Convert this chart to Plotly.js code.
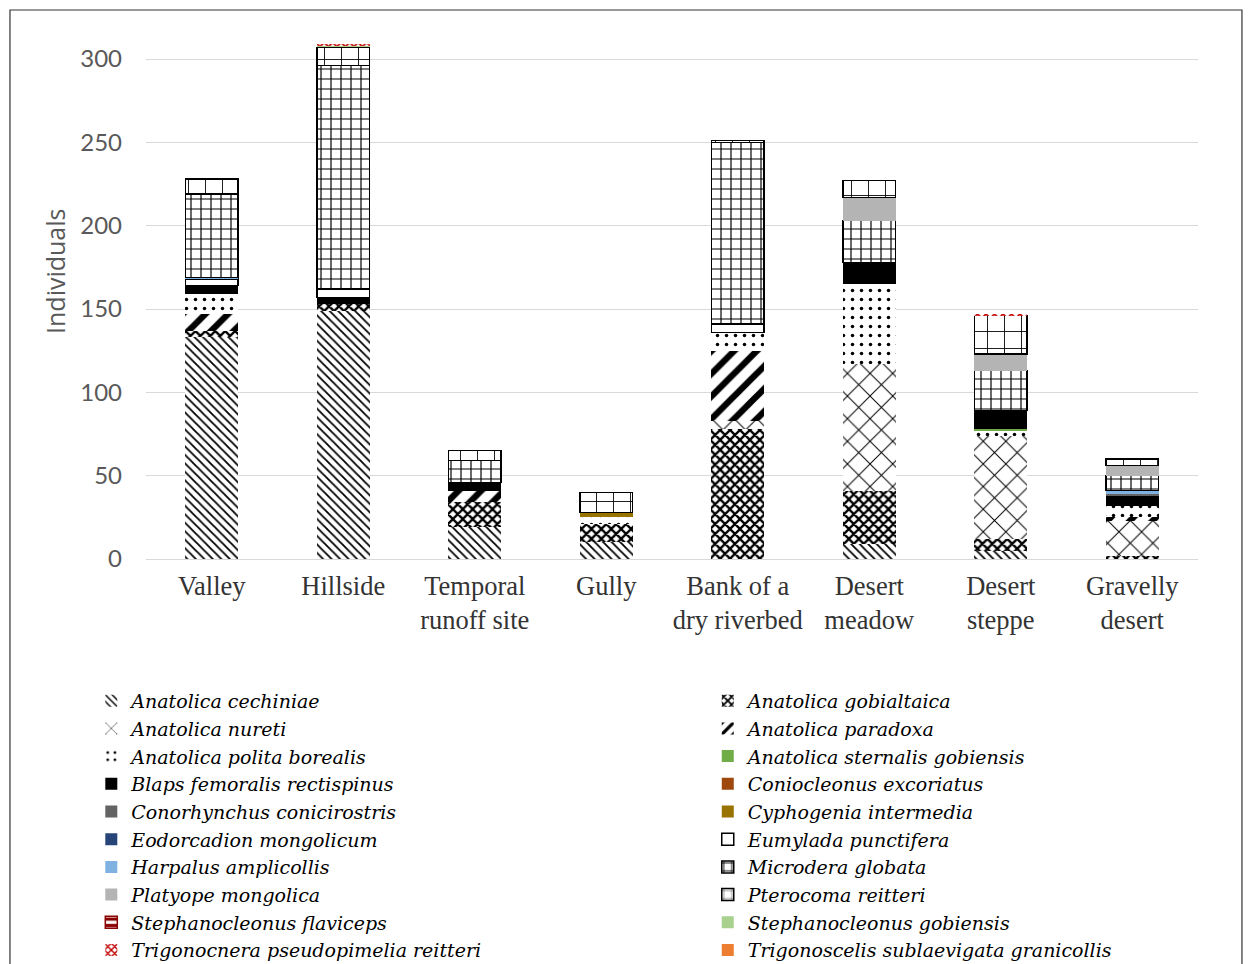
<!DOCTYPE html>
<html>
<head>
<meta charset="utf-8">
<script src="https://cdn.plot.ly/plotly-3.0.1.min.js"></script>
<style>
  html, body { margin: 0; padding: 0; background: #ffffff; }
  #chart { width: 1252px; height: 964px; }
</style>
</head>
<body>
<div id="chart"></div>
<script>
// Habitat types along the x axis
const habitats = ["Valley", "Hillside", "Temporal<br>runoff site", "Gully",
                  "Bank of a<br>dry riverbed", "Desert<br>meadow", "Desert<br>steppe", "Gravelly<br>desert"];

// Individuals per species in each habitat (same order as habitats)
const anatolicaCechiniae        = [133, 149, 19, 10,   0,  9,  5,  0];
const anatolicaGobialtaica      = [  4,   4, 15, 11,  78, 32,  7,  2];
const anatolicaNureti           = [  0,   0,  0,  0,   5, 76, 62, 21];
const anatolicaParadoxa         = [ 10,   0,  7,  0,  42,  0,  0,  2];
const anatolicaPolitaBorealis   = [ 12,   0,  0,  4,  11, 48,  3,  7];
const anatolicaSternalis        = [  0,   0,  0,  0,   0,  0,  1,  0];
const blapsFemoralis            = [  5,   4,  5,  0,   0, 13, 11,  6];
const coniocleonusExcoriatus    = [  0,   0,  0,  0,   0,  0,  0,  0];
const conorhynchusConicirostris = [  0,   0,  0,  0,   0,  0,  0,  1];
const cyphogeniaIntermedia      = [  0,   0,  0,  3,   0,  0,  0,  0];
const eodorcadionMongolicum     = [  0,   0,  0,  0,   0,  0,  0,  0];
const eumyladaPunctifera        = [  4,   5,  0,  0,   5,  0,  0,  0];
const harpalusAmplicollis       = [  1,   0,  0,  0,   0,  0,  0,  2];
const micoderaGlobata           = [ 50, 134, 13,  0, 109, 25, 24,  9];
const platyopeMongolica         = [  0,   0,  0,  0,   0, 14, 10,  6];
const pterocomaReitteri         = [  9,  11,  6, 12,   1, 10, 23,  4];
const stephFlaviceps            = [  0,   0,  0,  0,   0,  0,  0,  0];
const stephGobiensis            = [  0,   1,  0,  0,   0,  0,  0,  0];
const trigonocneraReitteri      = [  0,   1,  0,  0,   0,  0,  1,  0];
const trigonoscelisGranicollis  = [  0,   0,  0,  0,   0,  0,  0,  0];

// Axis ticks
const yTicks = [0, 50, 100, 150, 200, 250, 300];

// Stack order (bottom to top) with fill styles
const series = [
  {name: "Anatolica cechiniae",              y: anatolicaCechiniae,        pat: {shape: "\\", size: 6, solidity: 0.3, fgcolor: "#000", bgcolor: "#fff"}},
  {name: "Anatolica gobialtaica",            y: anatolicaGobialtaica,      pat: {shape: "x", size: 7, solidity: 0.55, fgcolor: "#000", bgcolor: "#fff"}},
  {name: "Anatolica nureti",                 y: anatolicaNureti,           pat: {shape: "x", size: 16, solidity: 0.12, fgcolor: "#000", bgcolor: "#fff"}},
  {name: "Anatolica paradoxa",               y: anatolicaParadoxa,         pat: {shape: "/", size: 16, solidity: 0.4, fgcolor: "#000", bgcolor: "#fff"}},
  {name: "Anatolica polita borealis",        y: anatolicaPolitaBorealis,   pat: {shape: ".", size: 9, solidity: 0.12, fgcolor: "#000", bgcolor: "#fff"}},
  {name: "Anatolica sternalis gobiensis",    y: anatolicaSternalis,        color: "#70AD47"},
  {name: "Blaps femoralis rectispinus",      y: blapsFemoralis,            color: "#000000"},
  {name: "Coniocleonus excoriatus",          y: coniocleonusExcoriatus,    color: "#9E480E"},
  {name: "Conorhynchus conicirostris",       y: conorhynchusConicirostris, color: "#636363"},
  {name: "Cyphogenia intermedia",            y: cyphogeniaIntermedia,      color: "#997300"},
  {name: "Eodorcadion mongolicum",           y: eodorcadionMongolicum,     color: "#264478"},
  {name: "Eumylada punctifera",              y: eumyladaPunctifera,        color: "#ffffff", line: 1.5},
  {name: "Harpalus amplicollis",             y: harpalusAmplicollis,       color: "#7FB2E0"},
  {name: "Microdera globata",                y: micoderaGlobata,           pat: {shape: "+", size: 10, solidity: 0.22, fgcolor: "#000", bgcolor: "#fff"}, line: 1.5},
  {name: "Platyope mongolica",               y: platyopeMongolica,         color: "#B4B4B4"},
  {name: "Pterocoma reitteri",               y: pterocomaReitteri,         pat: {shape: "+", size: 17, solidity: 0.1, fgcolor: "#000", bgcolor: "#fff"}, line: 1.5},
  {name: "Stephanocleonus flaviceps",        y: stephFlaviceps,            pat: {shape: "-", size: 8, solidity: 0.5, fgcolor: "#8B0000", bgcolor: "#fff"}, line: 1.5, lineColor: "#8B0000"},
  {name: "Stephanocleonus gobiensis",        y: stephGobiensis,            color: "#A9D18E"},
  {name: "Trigonocnera pseudopimelia reitteri", y: trigonocneraReitteri,   pat: {shape: "x", size: 6, solidity: 0.5, fgcolor: "#C00000", bgcolor: "#fff"}},
  {name: "Trigonoscelis sublaevigata granicollis", y: trigonoscelisGranicollis, color: "#ED7D31"}
];

// Empty segments are skipped so that outlined fills leave no stray edges;
// entries alternate between the two legend columns (alphabetical, row by row)
const traces = series.map((s, i) => ({
  type: "bar",
  name: s.name,
  x: habitats,
  y: s.y.map(v => (v === 0 ? null : v)),
  legend: i % 2 === 0 ? "legend" : "legend2",
  marker: {
    color: s.pat ? s.pat.bgcolor : s.color,
    pattern: s.pat ? Object.assign({fillmode: "replace"}, s.pat) : undefined,
    line: {width: s.line || 0, color: s.lineColor || "#000000"}
  },
  hoverinfo: "name+y"
}));

const legendFont = {family: "DejaVu Serif", size: 19, color: "#000000", style: "italic"};
const legendBase = {
  orientation: "v",
  traceorder: "normal",
  xanchor: "left",
  y: -0.234,
  yanchor: "top",
  itemwidth: 30,
  tracegroupgap: 0,
  font: legendFont,
  bgcolor: "rgba(0,0,0,0)"
};

const layout = {
  width: 1252,
  height: 964,
  paper_bgcolor: "#ffffff",
  plot_bgcolor: "#ffffff",
  barmode: "stack",
  bargap: 0.6,
  margin: {l: 146, r: 54, t: 34, b: 405, autoexpand: false},
  font: {family: "Liberation Serif", color: "#333333"},
  xaxis: {
    type: "category",
    showgrid: false,
    showline: false,
    zeroline: false,
    ticks: "",
    ticklabelstandoff: 8,
    tickfont: {family: "Liberation Serif", size: 26.5, color: "#333333"}
  },
  yaxis: {
    range: [0, 315],
    tickvals: yTicks,
    showgrid: true,
    gridcolor: "#D9D9D9",
    gridwidth: 1,
    zeroline: true,
    zerolinecolor: "#D9D9D9",
    zerolinewidth: 1,
    showline: false,
    ticks: "",
    ticklabelstandoff: 23,
    tickfont: {family: "Lato", size: 24, color: "#595959"}
  },
  annotations: [{
    text: "Individuals",
    xref: "paper", yref: "paper",
    x: -0.0865, y: 0.5467,
    xanchor: "center", yanchor: "middle",
    textangle: -90,
    showarrow: false,
    font: {family: "Open Sans", size: 25, color: "#595959"}
  }],
  showlegend: true,
  legend: Object.assign({x: -0.052}, legendBase),
  legend2: Object.assign({x: 0.534}, legendBase),
  shapes: [{
    type: "rect",
    xref: "paper", yref: "paper",
    x0: -0.1293, x1: 1.0418,
    y0: -0.80, y1: 1.0457,
    line: {color: "#333333", width: 1.2},
    fillcolor: "rgba(0,0,0,0)",
    layer: "below"
  }]
};

Plotly.newPlot("chart", traces, layout, {displayModeBar: false, staticPlot: true});
</script>
</body>
</html>
